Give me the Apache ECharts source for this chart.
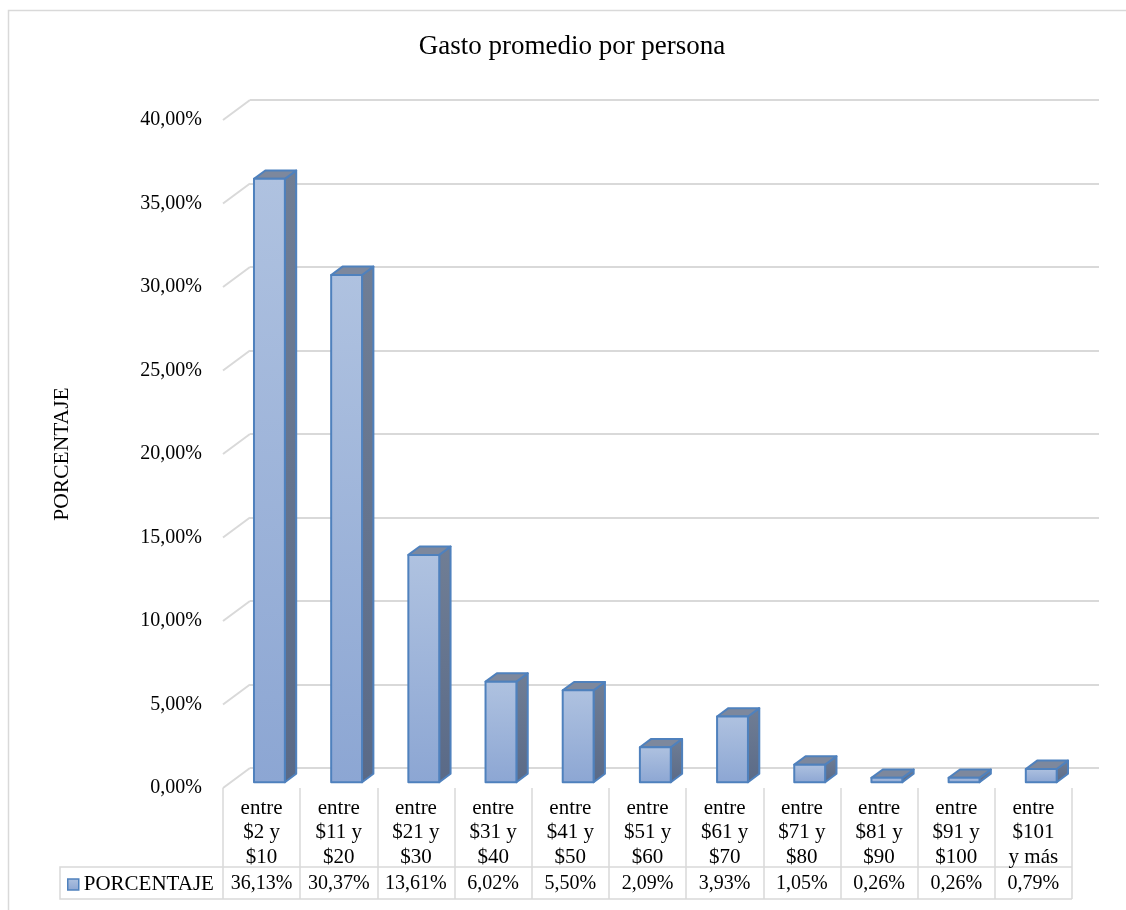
<!DOCTYPE html>
<html>
<head>
<meta charset="utf-8">
<title>Gasto promedio por persona</title>
<script src="https://cdn.jsdelivr.net/npm/echarts@6/dist/echarts.min.js"></script>
<style>
  html, body { margin: 0; padding: 0; background: #ffffff; }
  #chart { width: 1126px; height: 910px; }
</style>
</head>
<body>
<div id="chart"></div>
<script>
// ---- data ----
const categories = [
  'entre\n$2 y\n$10',
  'entre\n$11 y\n$20',
  'entre\n$21 y\n$30',
  'entre\n$31 y\n$40',
  'entre\n$41 y\n$50',
  'entre\n$51 y\n$60',
  'entre\n$61 y\n$70',
  'entre\n$71 y\n$80',
  'entre\n$81 y\n$90',
  'entre\n$91 y\n$100',
  'entre\n$101\ny más'
];
const porcentaje = [36.13, 30.37, 13.61, 6.02, 5.50, 2.09, 3.93, 1.05, 0.26, 0.26, 0.79];
const yTicks = [0, 5, 10, 15, 20, 25, 30, 35, 40];
const seriesName = 'PORCENTAJE';
const axisTitle = 'PORCENTAJE';
const chartTitle = 'Gasto promedio por persona';

// ---- helpers ----
const fmtPct = v => Number(v).toFixed(2).replace('.', ',') + '%';

// ---- layout ----
const FONT = '"Liberation Serif", "Times New Roman", serif';
const TEXT = '#000000';
const GRID_GRAY = '#d9d9d9';
const front = { left: 223, top: 120, width: 849, height: 668 };   // front plane of the plot
const depth = { dx: 27, dy: -20 };                                 // floor depth in screen space
const back = { left: front.left + depth.dx, top: front.top + depth.dy, width: front.width, height: front.height };
const barWidthRatio = 0.4;
const barDepthRatio = 0.42;
const tableBottom = 899;
const valueRowTop = 867;
const legendCellLeft = 60;

const frontGradient = new echarts.graphic.LinearGradient(0, 0, 0, 1, [
  { offset: 0, color: '#afc2e0' },
  { offset: 1, color: '#8ca6d3' }
]);
const sideGradient = new echarts.graphic.LinearGradient(0, 0, 0, 1, [
  { offset: 0, color: '#707e95' },
  { offset: 1, color: '#5a6a87' }
]);
const TOP_COLOR = '#7d889d';
const EDGE = '#4f81bd';

const chart = echarts.init(document.getElementById('chart'), null, { renderer: 'canvas' });

const yMin = yTicks[0];
const yMax = yTicks[yTicks.length - 1];
const yStep = yTicks[1] - yTicks[0];

const option = {
  animation: false,
  backgroundColor: '#ffffff',
  textStyle: { fontFamily: FONT, color: TEXT },
  grid: [
    { left: front.left, top: front.top, width: front.width, height: front.height },
    { left: back.left, top: back.top, width: back.width, height: back.height }
  ],
  legend: {
    selectedMode: false,
    left: 67,
    top: 874,
    padding: 0,
    itemWidth: 11,
    itemHeight: 11,
    itemGap: 5,
    textStyle: { fontFamily: FONT, fontSize: 21, color: TEXT },
    data: [{
      name: seriesName,
      icon: 'rect',
      itemStyle: { color: frontGradient, borderColor: EDGE, borderWidth: 1.5 }
    }]
  },
  xAxis: [
    {
      type: 'category',
      gridIndex: 0,
      data: categories,
      axisLine: { show: false },
      axisTick: {
        show: true,
        interval: 0,
        length: tableBottom - (front.top + front.height),
        lineStyle: { color: GRID_GRAY, width: 1.5 }
      },
      axisLabel: {
        interval: 0,
        margin: 8,
        fontFamily: FONT,
        fontSize: 21,
        lineHeight: 24.5,
        color: TEXT
      },
      splitLine: { show: false }
    },
    {
      type: 'category',
      gridIndex: 0,
      position: 'bottom',
      data: porcentaje.map(fmtPct),
      axisLine: { show: false },
      axisTick: { show: false },
      axisLabel: {
        interval: 0,
        margin: 84,
        fontFamily: FONT,
        fontSize: 20,
        lineHeight: 24,
        color: TEXT
      },
      splitLine: { show: false }
    },
    {
      type: 'category',
      gridIndex: 1,
      data: categories,
      show: false
    }
  ],
  yAxis: [
    {
      type: 'value',
      gridIndex: 0,
      min: yMin,
      max: yMax,
      interval: yStep,
      axisLine: { show: false },
      axisTick: { show: false },
      splitLine: { show: false },
      axisLabel: {
        margin: 21,
        fontFamily: FONT,
        fontSize: 20,
        color: TEXT,
        formatter: v => fmtPct(v)
      },
      name: axisTitle,
      nameLocation: 'middle',
      nameRotate: 90,
      nameGap: 150,
      nameTextStyle: { fontFamily: FONT, fontSize: 21.5, color: TEXT }
    },
    {
      type: 'value',
      gridIndex: 1,
      min: yMin,
      max: yMax,
      interval: yStep,
      axisLine: { show: false },
      axisTick: { show: false },
      axisLabel: { show: false },
      splitLine: { show: true, lineStyle: { color: GRID_GRAY, width: 2 } }
    }
  ],
  series: [
    {
      // left side-wall gridlines, joining each tick on the front plane to the back wall
      type: 'custom',
      name: 'wall',
      xAxisIndex: 0,
      yAxisIndex: 0,
      silent: true,
      data: yTicks.map(v => [0, v]),
      encode: { x: 0, y: 1 },
      renderItem: function (params, api) {
        const y = api.coord([0, api.value(1)])[1];
        const x = params.coordSys.x;
        return {
          type: 'line',
          shape: { x1: x, y1: y, x2: x + depth.dx, y2: y + depth.dy },
          style: { stroke: GRID_GRAY, lineWidth: 2 }
        };
      },
      z: 1
    },
    {
      type: 'custom',
      name: seriesName,
      xAxisIndex: 0,
      yAxisIndex: 0,
      data: porcentaje.map((v, i) => [i, v]),
      encode: { x: 0, y: 1 },
      renderItem: function (params, api) {
        const i = api.value(0);
        const v = api.value(1);
        const base = api.coord([i, 0]);
        const topPt = api.coord([i, v]);
        const band = api.size([1, 0])[0];
        const w = band * barWidthRatio;
        const f0 = (1 - barDepthRatio) / 2;
        const ox = depth.dx * f0, oy = depth.dy * f0;
        const ddx = depth.dx * barDepthRatio, ddy = depth.dy * barDepthRatio;
        const xl = base[0] - w / 2 + ox;
        const xr = base[0] + w / 2 + ox;
        const yb = base[1] + oy;
        const yt = topPt[1] + oy;
        const edge = { stroke: EDGE, lineWidth: 2, lineJoin: 'round' };
        return {
          type: 'group',
          children: [
            {
              type: 'polygon',
              shape: { points: [[xr, yb], [xr + ddx, yb + ddy], [xr + ddx, yt + ddy], [xr, yt]] },
              style: Object.assign({ fill: sideGradient }, edge)
            },
            {
              type: 'polygon',
              shape: { points: [[xl, yt], [xr, yt], [xr + ddx, yt + ddy], [xl + ddx, yt + ddy]] },
              style: Object.assign({ fill: TOP_COLOR }, edge)
            },
            {
              type: 'polygon',
              shape: { points: [[xl, yb], [xr, yb], [xr, yt], [xl, yt]] },
              style: Object.assign({ fill: frontGradient }, edge)
            }
          ]
        };
      },
      z: 3
    }
  ],
  graphic: [
    {
      type: 'rect',
      shape: { x: 8.5, y: 10.5, width: 1140, height: 920 },
      style: { fill: 'none', stroke: GRID_GRAY, lineWidth: 1.5 },
      silent: true,
      z: 0
    },
    {
      type: 'text',
      x: 572,
      y: 47,
      style: {
        text: chartTitle,
        font: '27px ' + FONT,
        fill: TEXT,
        align: 'center',
        verticalAlign: 'middle'
      },
      silent: true
    },
    {
      type: 'polyline',
      shape: { points: [
        [front.left + front.width, valueRowTop],
        [legendCellLeft, valueRowTop],
        [legendCellLeft, tableBottom],
        [front.left + front.width, tableBottom]
      ] },
      style: { fill: 'none', stroke: GRID_GRAY, lineWidth: 1.5 },
      silent: true
    }
  ]
};

chart.setOption(option);
</script>
</body>
</html>
